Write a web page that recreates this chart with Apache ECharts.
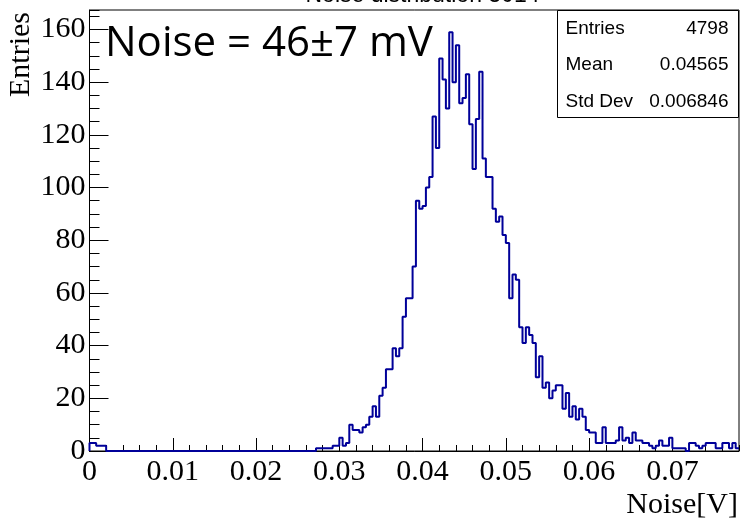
<!DOCTYPE html>
<html>
<head>
<meta charset="utf-8">
<script src="https://cdn.jsdelivr.net/npm/echarts@6/dist/echarts.min.js"></script>
<style>
  html, body { margin: 0; padding: 0; background: #fff; }
  #chart { width: 741px; height: 518px; }
</style>
</head>
<body>
<div id="chart"></div>
<script>
// histogram: 195 bins of 0.0004 V starting at 0
const xMin = 0
const xMax = 0.078
const binWidth = 0.0004
const yMax = 167.4
const counts = [
  3, 3, 2, 2, 2,
  0, 0, 0, 0, 0, 0, 0, 0, 0, 0, 0, 0, 0, 0, 0, 0, 0, 0, 0, 0, 0,
  0, 0, 0, 0, 0, 0, 0, 0, 0, 0, 0, 0, 0, 0, 0, 0, 0, 0, 0, 0, 0,
  0, 0, 0, 0, 0, 0, 0, 0, 0, 0, 0, 0, 0, 0, 0, 0, 0, 0, 0, 0, 0,
  1, 1, 1, 1, 1, 2, 2,
  5, 2, 3, 10, 8, 8, 7, 9, 10, 13, 17, 13, 21, 24, 31, 31, 39, 36, 39, 51, 58, 58, 70,
  95, 92, 93, 100, 104, 127, 115, 149, 141, 130, 159, 140, 154, 132, 134, 143, 124, 107, 126, 144, 111, 104, 104,
  92, 87, 89, 82, 79, 58, 67, 65, 47, 41, 47, 44, 41, 28, 36, 24, 26, 20, 23, 25, 25, 16, 22, 13, 17, 12, 16, 13,
  8, 7, 7, 3, 3, 9, 3, 3, 3, 4, 9, 4, 5, 3, 7, 4, 4, 3, 3, 2, 1, 2, 4, 2, 2,
  5, 1, 1, 1, 1, 0, 3, 3, 2, 1, 2, 3, 3, 3, 1, 1, 3, 3, 1, 3, 1
]

const titleText = 'Noise distribution 3014'
const noiseText = 'Noise = 46±7 mV'
const statLabels = ['Entries', 'Mean', 'Std Dev']
const statValues = ['4798', '0.04565', '0.006846']

const serif = '"Liberation Serif", "Times New Roman", serif'
const sans = '"Liberation Sans", Arial, sans-serif'
const lineColor = '#000099'

// step outline: bin low edges, closed at both ends
const points = [[xMin, 0]]
counts.forEach((c, i) => points.push([xMin + i * binWidth, c]))
points.push([xMin + counts.length * binWidth, counts[counts.length - 1]])

const chart = echarts.init(document.getElementById('chart'), null, { renderer: 'canvas' })

const statRows = []
statLabels.forEach((label, i) => {
  const y = 28.5 + i * 36.4
  statRows.push({
    type: 'text', x: 565.5, y: y, z: 101,
    style: { text: label, font: '19px ' + sans, fill: '#000', align: 'left', verticalAlign: 'middle' }
  })
  statRows.push({
    type: 'text', x: 728.5, y: y, z: 101,
    style: { text: statValues[i], font: '19px ' + sans, fill: '#000', align: 'right', verticalAlign: 'middle' }
  })
})

const axisBase = {
  splitLine: { show: false },
  axisLine: { show: true, onZero: false, lineStyle: { color: '#000', width: 1 } }
}

chart.setOption({
  animation: false,
  backgroundColor: '#fff',
  grid: {
    left: 89.5, right: 2, top: 10, bottom: 67,
    show: true, borderColor: '#000', borderWidth: 1, backgroundColor: 'transparent'
  },
  xAxis: [{
    ...axisBase,
    type: 'value', min: xMin, max: xMax, interval: 0.01,
    axisTick: { inside: true, length: 13, lineStyle: { color: '#000' } },
    axisLabel: {
      fontFamily: serif, fontSize: 30, color: '#000', margin: 6,
      showMaxLabel: false,
      formatter: (v) => (v === 0 ? '0' : v.toFixed(2))
    }
  }, {
    type: 'value', min: xMin, max: xMax, interval: 0.002, position: 'bottom',
    axisLine: { show: false }, splitLine: { show: false }, axisLabel: { show: false },
    axisTick: { inside: true, length: 6, lineStyle: { color: '#000' } }
  }],
  yAxis: [{
    ...axisBase,
    type: 'value', min: 0, max: yMax, interval: 20,
    axisTick: { inside: true, length: 19, lineStyle: { color: '#000' } },
    axisLabel: {
      fontFamily: serif, fontSize: 30, color: '#000', margin: 4,
      showMaxLabel: false
    }
  }, {
    type: 'value', min: 0, max: yMax, interval: 5, position: 'left',
    axisLine: { show: false }, splitLine: { show: false }, axisLabel: { show: false },
    axisTick: { inside: true, length: 10, lineStyle: { color: '#000' } }
  }],
  series: [{
    type: 'line',
    step: 'end',
    xAxisIndex: 0,
    yAxisIndex: 0,
    data: points,
    showSymbol: false,
    symbol: 'none',
    lineStyle: { color: lineColor, width: 2 },
    z: 5
  }],
  graphic: [
    {
      type: 'text', x: 422.5, y: -4.5, z: 100,
      style: { text: titleText, font: '23px ' + sans, fill: '#000', align: 'center', verticalAlign: 'middle' }
    },
    {
      type: 'text', x: 105, y: 44, z: 100,
      style: { text: noiseText, font: '42px "Open Sans", sans-serif', fill: '#000', align: 'left', verticalAlign: 'middle' }
    },
    {
      type: 'rect', z: 100,
      shape: { x: 557.5, y: 10.5, width: 181, height: 107 },
      style: { fill: '#fff', stroke: '#000', lineWidth: 1 }
    },
    ...statRows,
    {
      type: 'text', x: 21, y: 97, rotation: Math.PI / 2, z: 100,
      style: { text: 'Entries', font: '30px ' + serif, fill: '#000', align: 'left', verticalAlign: 'middle' }
    },
    {
      type: 'text', x: 738, y: 505, z: 100,
      style: { text: 'Noise[V]', font: '30px ' + serif, fill: '#000', align: 'right', verticalAlign: 'middle' }
    }
  ]
})
</script>
</body>
</html>
